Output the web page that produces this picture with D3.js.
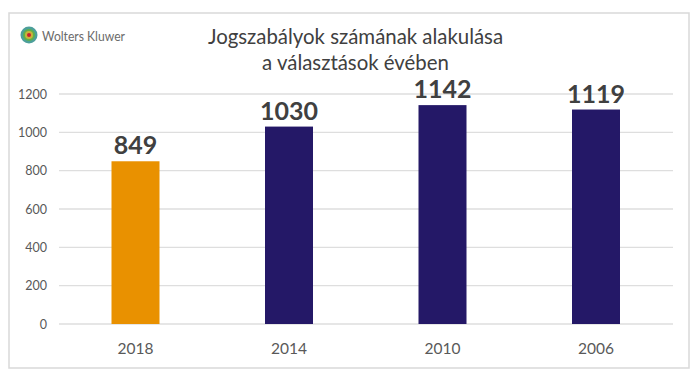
<!DOCTYPE html>
<html><head><meta charset="utf-8">
<script src="https://cdn.jsdelivr.net/npm/d3@7"></script>
<style>html,body{margin:0;padding:0;background:#fff}svg{display:block}text{font-family:Lato,"Open Sans",sans-serif}</style>
</head><body><svg id="c" width="700" height="379"></svg>
<script>
const categories = ["2018","2014","2010","2006"];
const values = [849,1030,1142,1119];
const barColors = ["#E99100","#241867","#241867","#241867"];
const yTicks = [0,200,400,600,800,1000,1200];
const titleLines = ["Jogszabályok számának alakulása","a választások évében"];
const logoText = "Wolters Kluwer";
const logoRings = [["#4c9f9a",8.5],["#5fb04a",6],["#c9b23a",4],["#c8202f",2]];

const svg = d3.select("#c");
svg.append("rect").attr("x",9).attr("y",13).attr("width",680).attr("height",355)
  .attr("fill","#fff").attr("stroke","#d9d9d9").attr("stroke-width",1.5);

const x = d3.scalePoint().domain(categories).range([135.5,596]);
const y = d3.scaleLinear().domain([0,1200]).range([324,94]);
const bw = 48;

const axisY = svg.append("g").attr("transform","translate(59,0)")
  .call(d3.axisLeft(y).tickValues(yTicks).tickSize(0).tickPadding(12).tickFormat(d3.format("d")));
axisY.select(".domain").remove();
axisY.selectAll("text").attr("font-size",12.5).attr("fill","#595959").style("font-family","Lato,sans-serif");

svg.append("g").selectAll("line").data(yTicks).join("line")
  .attr("x1",59).attr("x2",673).attr("y1",d=>y(d)).attr("y2",d=>y(d))
  .attr("stroke","#dedede").attr("stroke-width",1.3);

svg.append("g").selectAll("rect").data(values).join("rect")
  .attr("x",(d,i)=>x(categories[i])-bw/2).attr("width",bw)
  .attr("y",d=>y(d)).attr("height",d=>y(0)-y(d))
  .attr("fill",(d,i)=>barColors[i]);

svg.append("g").selectAll("text").data(values).join("text")
  .attr("x",(d,i)=>x(categories[i])).attr("y",d=>y(d)-7)
  .attr("text-anchor","middle").attr("font-size",25).attr("font-weight",700)
  .attr("fill","#404040").text(d=>d);

svg.append("g").selectAll("text").data(categories).join("text")
  .attr("x",d=>x(d)).attr("y",354).attr("text-anchor","middle")
  .attr("font-size",15.5).attr("fill","#595959").text(d=>d);

svg.append("g").selectAll("text").data(titleLines).join("text")
  .attr("x",355.5).attr("y",(d,i)=>43.5+i*26).attr("text-anchor","middle")
  .attr("font-size",20.4).attr("fill","#404040").text(d=>d);

svg.append("g").selectAll("circle").data(logoRings).join("circle")
  .attr("cx",29).attr("cy",35).attr("r",d=>d[1]).attr("fill",d=>d[0]);
svg.append("text").attr("x",42).attr("y",41).attr("font-size",14)
  .attr("textLength",83).attr("lengthAdjust","spacingAndGlyphs")
  .attr("fill","#6b6b6b").text(logoText);
</script></body></html>
